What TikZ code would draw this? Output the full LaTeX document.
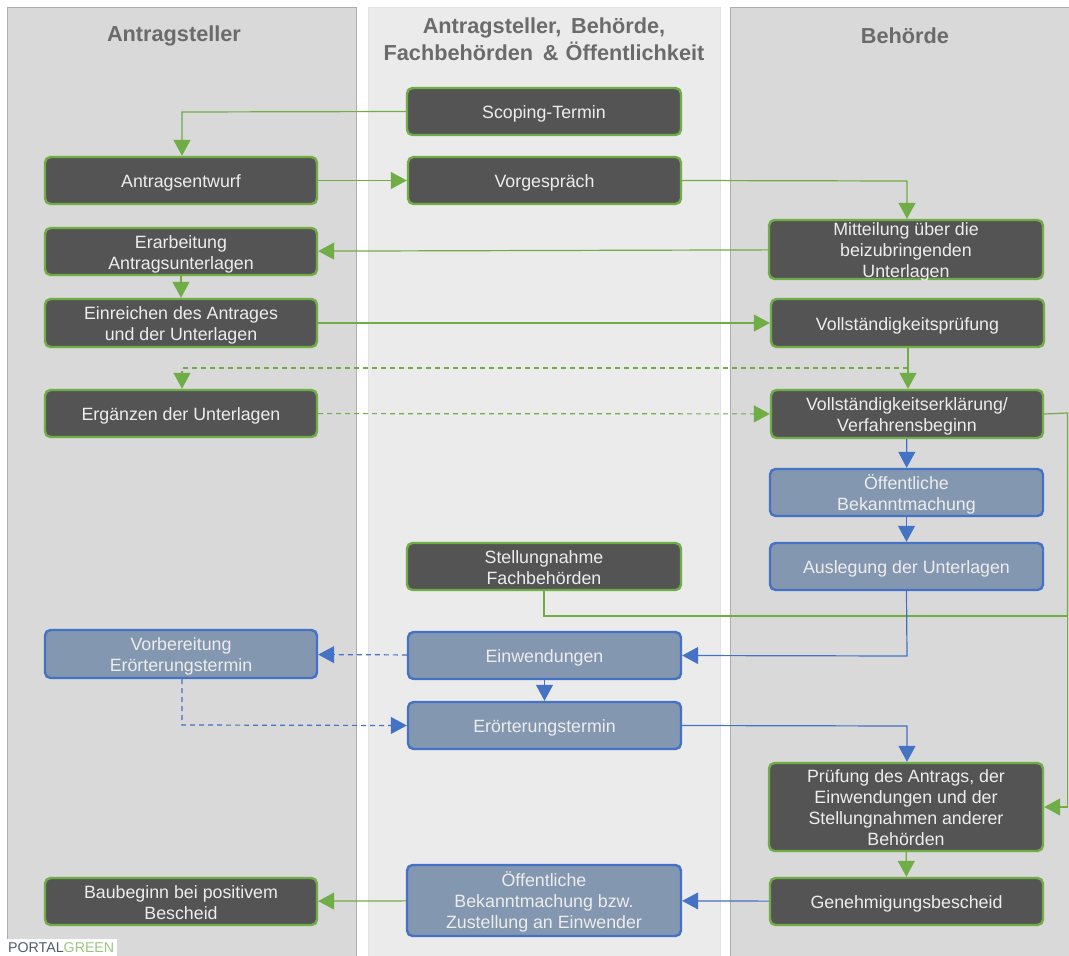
\documentclass[tikz,border=0pt]{standalone}
\usepackage{fontspec}
\setmainfont{Liberation Sans}
\usetikzlibrary{arrows.meta}
\definecolor{gr}{HTML}{70AD47}
\definecolor{bl}{HTML}{4472C4}
\definecolor{dk}{HTML}{545454}
\definecolor{bf}{HTML}{8497B0}
\tikzset{
 x=1pt,y=-1pt,
 panelA/.style={fill=black!15,draw=black!32,line width=.7pt},
 panelB/.style={fill=black!8,draw=black!11,line width=.7pt},
 head/.style={font=\fontsize{21.7}{27}\selectfont\bfseries,text=black!58,align=center},
 boxbase/.style={rounded corners=5.5pt,line width=2.4pt,align=center,text=white!93!black,inner sep=0pt,
   font=\fontsize{17.8}{21}\selectfont},
 gbox/.style={boxbase,draw=gr,fill=dk},
 bbox/.style={boxbase,draw=bl,fill=bf},
 garr/.style={draw=gr,line width=1.2pt,-{Triangle[length=16pt,width=17pt,fill=gr]}},
 barr/.style={draw=bl,line width=1.2pt,-{Triangle[length=16pt,width=17pt,fill=bl]}},
 gline/.style={draw=gr,line width=1.2pt},
 dash1/.style={dash pattern=on 5pt off 4pt},
}
\newcommand{\bx}[7]{\node[#1,minimum width=#5pt-#4pt,minimum height=#7pt-#6pt,anchor=center] (#2) at ({(#4+#5)/2},{(#6+#7)/2}) {\raisebox{-7.3pt}[0pt][0pt]{\begin{tabular}{@{}c@{}}#3\end{tabular}}};}
\begin{document}
\begin{tikzpicture}
\useasboundingbox (0,0) rectangle (1069,956);
\fill[white] (0,0) rectangle (1069,956);
\draw[panelA] (7,7) rectangle (356,956);
\draw[panelB] (368,7) rectangle (720,956);
\draw[panelA] (730.5,7) rectangle (1072,956);
\node[head] (h1) at (174,36) {Antragsteller};
\node[head] (h2) at (544,39.5) {Antragsteller,\, Behörde,\\Fachbehörden \,\&\,\,Öffentlichkeit};
\node[head] (h3) at (905,36) {Behörde};
\bx{gbox}{scoping}{Scoping-Termin}{407}{681}{88}{135}
\bx{gbox}{entwurf}{Antragsentwurf}{45}{317}{157}{204}
\bx{gbox}{vorg}{Vorgespräch}{408}{681}{157}{204}
\bx{gbox}{mitt}{Mitteilung über die\\beizubringenden\\Unterlagen}{769}{1043}{220}{279}
\bx{gbox}{erarb}{Erarbeitung\\Antragsunterlagen}{45}{317}{228}{275}
\bx{gbox}{einr}{Einreichen des Antrages\\und der Unterlagen}{45}{317}{299}{347}
\bx{gbox}{vollp}{Vollständigkeitsprüfung}{771}{1044}{299}{347}
\bx{gbox}{erg}{Ergänzen der Unterlagen}{45}{317}{390}{437}
\bx{gbox}{volle}{Vollständigkeitserklärung/\\Verfahrensbeginn}{771}{1043}{390}{438}
\bx{bbox}{oeff}{Öffentliche\\Bekanntmachung}{770}{1043}{469}{516}
\bx{bbox}{ausl}{Auslegung der Unterlagen}{770}{1043}{543}{590}
\bx{gbox}{stell}{Stellungnahme\\Fachbehörden}{407}{681}{543}{590}
\bx{bbox}{vorb}{Vorbereitung\\Erörterungstermin}{45}{317}{630}{678}
\bx{bbox}{einw}{Einwendungen}{408}{681}{632}{679}
\bx{bbox}{eroe}{Erörterungstermin}{408}{681}{702}{749}
\bx{gbox}{pruef}{Prüfung des Antrags, der\\Einwendungen und der\\Stellungnahmen anderer\\Behörden}{769}{1043}{763}{851}
\bx{bbox}{zust}{Öffentliche\\Bekanntmachung bzw.\\Zustellung an Einwender}{407}{681}{865}{936}
\bx{gbox}{gen}{Genehmigungsbescheid}{770}{1043}{878}{925}
\bx{gbox}{bau}{Baubeginn bei positivem\\Bescheid}{45}{317}{878}{925}
% connectors
\coordinate (c1) at (182,112);
\coordinate (c2) at (907,181);
\coordinate (c3) at (908,368);
\coordinate (c4) at (182,368);
\coordinate (c5) at (1067.5,413);
\coordinate (c6) at (1067.5,807);
\coordinate (c7) at (544,616);
\coordinate (c8) at (1067.5,616);
\coordinate (c9) at (907,656);
\coordinate (c10) at (182,725);
\coordinate (c11) at (907,726);
\draw[garr] (scoping.west) -- (c1) -- (entwurf.north-|c1);
\draw[garr] (entwurf) -- (vorg);
\draw[garr] (vorg.east) -- (c2) -- (mitt.north-|c2);
\draw[garr] (mitt) -- (erarb);
\draw[garr] (erarb) -- (einr);
\draw[garr] (einr) -- (vollp);
\draw[garr] (vollp.south-|c3) -- (volle.north-|c3);
\draw[gr,line width=1.2pt,dash1,-{Triangle[length=16pt,width=17pt,fill=gr]}] (c3) -- (c4) -- (erg.north-|c4);
\draw[gr,line width=1.2pt,dash1,-{Triangle[length=16pt,width=17pt,fill=gr]}] (erg) -- (volle);
\draw[gline] (volle.east) -- (c5) -- (c8);
\draw[garr] (c8) -- (c6) -- (c6-|pruef.east);
\draw[gline] (stell.south) -- (c7) -- (c8);
\draw[barr] (volle) -- (oeff);
\draw[barr] (oeff) -- (ausl);
\draw[barr] (ausl.south) -- (c9) -- (einw.east);
\draw[bl,line width=1.2pt,dash1,-{Triangle[length=16pt,width=17pt,fill=bl]}] (einw) -- (vorb);
\draw[barr] (einw) -- (eroe);
\draw[bl,line width=1.2pt,dash1,-{Triangle[length=16pt,width=17pt,fill=bl]}] (vorb.south-|c10) -- (c10) -- (eroe.west);
\draw[barr] (eroe.east) -- (c11) -- (pruef.north-|c11);
\draw[garr] (pruef) -- (gen);
\draw[barr] (gen) -- (zust);
\draw[garr] (zust) -- (bau);
% logo
\fill[white] (7,939) rectangle (117,956);
\node[anchor=west,inner sep=0pt,font=\fontsize{14.2}{16}\selectfont] (logo) at (8,948) {\textcolor{bf!60!black}{PORTAL}\textcolor{gr!70!white}{GREEN}};
\end{tikzpicture}
\end{document}
